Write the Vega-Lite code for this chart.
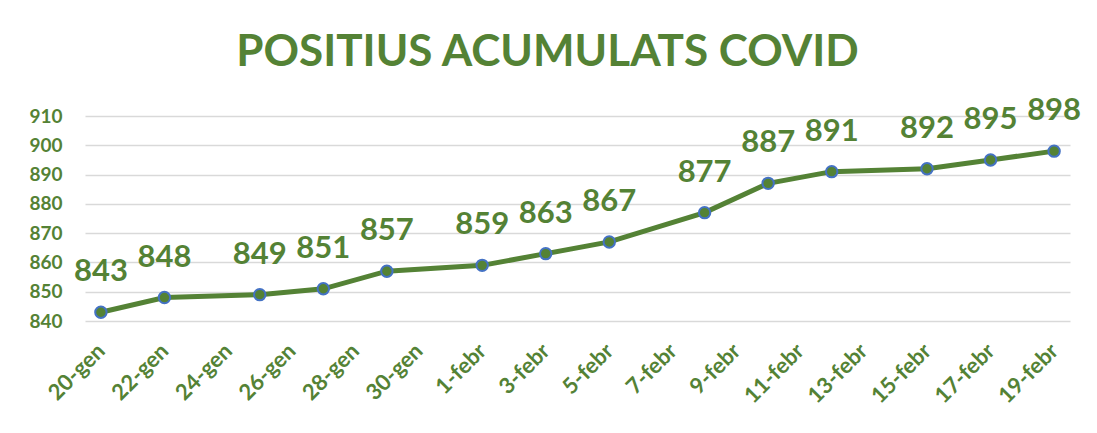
{
  "$schema": "https://vega.github.io/schema/vega-lite/v6.json",
  "width": 985,
  "height": 205,
  "autosize": "none",
  "padding": {"left": 85, "top": 116, "right": 27, "bottom": 112},
  "background": "white",
  "title": {
    "text": "POSITIUS ACUMULATS COVID",
    "font": "Lato",
    "fontSize": 44,
    "fontWeight": "bold",
    "color": "#548235",
    "anchor": "middle",
    "frame": "group",
    "dx": -30,
    "baseline": "alphabetic",
    "offset": -15
  },
  "data": {
    "values": [
      {"date": "2021-01-20", "value": 843},
      {"date": "2021-01-22", "value": 848},
      {"date": "2021-01-25", "value": 849},
      {"date": "2021-01-27", "value": 851},
      {"date": "2021-01-29", "value": 857},
      {"date": "2021-02-01", "value": 859},
      {"date": "2021-02-03", "value": 863},
      {"date": "2021-02-05", "value": 867},
      {"date": "2021-02-08", "value": 877},
      {"date": "2021-02-10", "value": 887},
      {"date": "2021-02-12", "value": 891},
      {"date": "2021-02-15", "value": 892},
      {"date": "2021-02-17", "value": 895},
      {"date": "2021-02-19", "value": 898}
    ]
  },
  "encoding": {
    "x": {
      "field": "date",
      "type": "temporal",
      "scale": {
        "type": "utc",
        "domain": [
          {"year": 2021, "month": 1, "date": 19, "hours": 12, "utc": true},
          {"year": 2021, "month": 2, "date": 19, "hours": 12, "utc": true}
        ]
      },
      "axis": {
        "title": null,
        "values": [
          {"year": 2021, "month": 1, "date": 20, "utc": true},
          {"year": 2021, "month": 1, "date": 22, "utc": true},
          {"year": 2021, "month": 1, "date": 24, "utc": true},
          {"year": 2021, "month": 1, "date": 26, "utc": true},
          {"year": 2021, "month": 1, "date": 28, "utc": true},
          {"year": 2021, "month": 1, "date": 30, "utc": true},
          {"year": 2021, "month": 2, "date": 1, "utc": true},
          {"year": 2021, "month": 2, "date": 3, "utc": true},
          {"year": 2021, "month": 2, "date": 5, "utc": true},
          {"year": 2021, "month": 2, "date": 7, "utc": true},
          {"year": 2021, "month": 2, "date": 9, "utc": true},
          {"year": 2021, "month": 2, "date": 11, "utc": true},
          {"year": 2021, "month": 2, "date": 13, "utc": true},
          {"year": 2021, "month": 2, "date": 15, "utc": true},
          {"year": 2021, "month": 2, "date": 17, "utc": true},
          {"year": 2021, "month": 2, "date": 19, "utc": true}
        ],
        "labelExpr": "utcdate(datum.value) + '-' + (utcmonth(datum.value) == 0 ? 'gen' : 'febr')",
        "labelAngle": -45,
        "labelAlign": "right",
        "labelBaseline": "middle",
        "labelPadding": 26,
        "labelFont": "Lato",
        "labelFontSize": 22,
        "labelFontWeight": "bold",
        "labelColor": "#548235",
        "labelOverlap": false,
        "ticks": false,
        "domain": false,
        "grid": false
      }
    },
    "y": {
      "field": "value",
      "type": "quantitative",
      "scale": {"domain": [840, 910], "nice": false, "zero": false},
      "axis": {
        "title": null,
        "values": [840, 850, 860, 870, 880, 890, 900, 910],
        "labelFont": "Lato",
        "labelFontSize": 19,
        "labelFontWeight": "bold",
        "labelColor": "#548235",
        "labelPadding": 23,
        "ticks": false,
        "domain": false,
        "grid": true,
        "gridColor": "#d9d9d9",
        "gridWidth": 1.5
      }
    }
  },
  "layer": [
    {
      "mark": {"type": "line", "color": "#548235", "strokeWidth": 5}
    },
    {
      "mark": {"type": "point", "filled": true, "fill": "#548235", "stroke": "#4472c4", "strokeWidth": 2, "size": 130, "opacity": 1}
    },
    {
      "mark": {"type": "text", "font": "Lato", "fontSize": 31, "fontWeight": "bold", "color": "#548235", "baseline": "alphabetic", "dy": -31},
      "encoding": {"text": {"field": "value", "type": "quantitative"}}
    }
  ],
  "config": {"view": {"stroke": null}}
}
